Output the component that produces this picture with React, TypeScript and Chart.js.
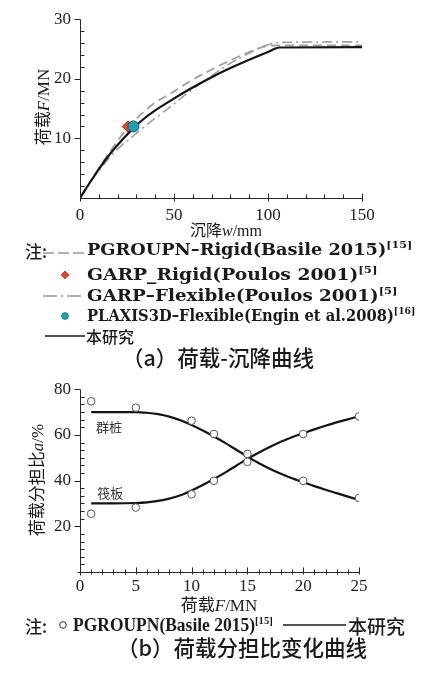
import React, { useEffect, useLayoutEffect, useRef } from "react";
import { Chart, registerables } from "chart.js";
Chart.register(...registerables);

// ---------- Chart (a): load–settlement ----------
const settleAxisTicks = [0, 50, 100, 150];
const loadAxisTicks = [10, 20, 30];

const solidSettle = [0, 8, 15, 22, 28, 34, 40, 48, 58, 69, 80, 90, 100, 106, 150];
const solidLoad = [0, 3.9, 7.0, 9.6, 11.6, 13.3, 14.7, 16.3, 18.2, 20.1, 21.8, 23.2, 24.5, 25.25, 25.3];

const pgroupnRigidSettle = [0, 10, 18, 25, 33, 40, 48, 58, 69, 80, 90, 97, 105, 150];
const pgroupnRigidLoad = [0, 5.0, 8.7, 11.6, 14.2, 16.0, 17.5, 19.5, 21.4, 23.1, 24.5, 25.3, 25.6, 25.6];

const garpFlexSettle = [0, 10, 20, 29, 38, 48, 58, 70, 80, 90, 98, 106, 150];
const garpFlexLoad = [0, 4.6, 8.2, 10.6, 12.9, 15.3, 17.8, 20.5, 22.6, 24.3, 25.5, 26.1, 26.2];

const garpRigidPoint = [25.4, 12.0];
const plaxisPoint = [28.4, 12.0];

// ---------- Chart (b): load sharing ratio ----------
const shareLoadTicks = [0, 5, 10, 15, 20, 25];
const shareRatioTicks = [20, 40, 60, 80];

const studyLoad = [1, 3, 5, 6, 7, 8, 9, 10, 11, 12, 13, 14, 15, 16, 17, 18, 19, 20, 21, 22, 23, 24, 25];
const studyPile = [70, 70, 70, 69.7, 69.1, 68, 66.4, 64.3, 61.9, 59.3, 56.5, 53.5, 50.5, 47.7, 45.2, 43, 41, 39.3, 37.6, 36, 34.5, 33, 31.5];
const studyRaft = [30, 30, 30.2, 30.5, 31.1, 32.1, 33.6, 35.7, 38.1, 40.7, 43.5, 46.5, 49.5, 52.2, 54.7, 57, 59, 60.7, 62.4, 64, 65.5, 66.8, 68.2];

const pgroupnLoad = [1, 5, 10, 12, 15, 20, 25];
const pgroupnPile = [74.7, 71.9, 66.2, 60.4, 48.2, 39.9, 32.4];
const pgroupnRaft = [25.5, 28.2, 34.0, 39.9, 51.7, 60.4, 68.1];

const seriesLabels = [
  { text: "群桩", x: 2.6, y: 63.4 },
  { text: "筏板", x: 2.7, y: 34.7 },
];

const zip = (xs: number[], ys: number[]) => xs.map((x, i) => ({ x, y: ys[i] }));

const SERIF = "'Liberation Serif', 'Times New Roman', serif";
const WIDE_SERIF = "'DejaVu Serif', serif";
const CJK = "'Noto Sans CJK SC', sans-serif";

const tickMarks = {
  id: "tickMarks",
  afterDraw(chart: any) {
    const o = chart.options.plugins.tickMarks;
    if (!o) return;
    const { ctx, chartArea: a, scales } = chart;
    const xs = scales.x;
    const ys = scales.y;
    const bx = Math.round(a.left) + 0.5;
    const by = Math.round(a.bottom) + 0.5;
    ctx.save();
    ctx.strokeStyle = "#2a2a2a";
    ctx.lineWidth = 1;
    ctx.beginPath();
    ctx.moveTo(bx, Math.round(a.top) + 0.5);
    ctx.lineTo(bx, by + o.yAxisBelow);
    ctx.moveTo(bx - o.xAxisLeft, by);
    ctx.lineTo(Math.round(a.right) + 0.5, by);
    const isMul = (v: number, s: number) => Math.abs(v / s - Math.round(v / s)) < 1e-6;
    for (let v = xs.min + o.xMinor; v <= xs.max + 1e-9; v += o.xMinor) {
      const px = Math.round(xs.getPixelForValue(v)) + 0.5;
      const major = isMul(v, o.xMajor);
      const up = major ? o.xMajorIn : o.xMinorIn;
      const down = major ? o.xMajorOut : o.xMinorOut;
      ctx.moveTo(px, by - up);
      ctx.lineTo(px, by + down);
    }
    for (let v = ys.min + o.yMinor; v <= ys.max + 1e-9; v += o.yMinor) {
      const py = Math.round(ys.getPixelForValue(v)) + 0.5;
      const major = isMul(v, o.yMajor);
      const inn = major ? o.yMajorIn : o.yMinorIn;
      const out = major ? o.yMajorOut : o.yMinorOut;
      ctx.moveTo(bx - out, py);
      ctx.lineTo(bx + inn, py);
    }
    ctx.stroke();
    ctx.restore();
  },
};

const seriesText = {
  id: "seriesText",
  afterDatasetsDraw(chart: any) {
    const o = chart.options.plugins.seriesText;
    if (!o || !o.items) return;
    const { ctx, scales } = chart;
    ctx.save();
    ctx.fillStyle = "#333";
    ctx.font = `13px ${CJK}`;
    ctx.textAlign = "center";
    ctx.textBaseline = "middle";
    o.items.forEach((it: any) => {
      ctx.fillText(it.text, scales.x.getPixelForValue(it.x), scales.y.getPixelForValue(it.y));
    });
    ctx.restore();
  },
};

function useChart(ref: React.RefObject<HTMLCanvasElement>, build: () => any) {
  useEffect(() => {
    if (!ref.current) return;
    const chart = new Chart(ref.current, build());
    return () => chart.destroy();
  }, []);
}

const tickFont = { family: SERIF, size: 17 };

function ChartA() {
  const ref = useRef<HTMLCanvasElement>(null);
  useChart(ref, () => ({
    type: "scatter",
    data: {
      datasets: [
        {
          data: [{ x: plaxisPoint[0], y: plaxisPoint[1] }],
          pointStyle: "circle",
          pointRadius: 5.5,
          backgroundColor: "#1d9fb6",
          borderColor: "#1f5663",
          borderWidth: 1,
        },
        {
          data: [{ x: garpRigidPoint[0], y: garpRigidPoint[1] }],
          pointStyle: "rectRot",
          pointRadius: 5.5,
          backgroundColor: "#e5452c",
          borderColor: "#8a2b1c",
          borderWidth: 1,
        },
        {
          data: zip(solidSettle, solidLoad),
          showLine: true,
          borderColor: "#141414",
          borderWidth: 2.2,
          pointRadius: 0,
          cubicInterpolationMode: "monotone",
        },
        {
          data: zip(pgroupnRigidSettle, pgroupnRigidLoad),
          showLine: true,
          borderColor: "#a0a0a0",
          borderWidth: 1.8,
          borderDash: [9, 5],
          pointRadius: 0,
          cubicInterpolationMode: "monotone",
        },
        {
          data: zip(garpFlexSettle, garpFlexLoad),
          showLine: true,
          borderColor: "#a0a0a0",
          borderWidth: 1.6,
          borderDash: [10, 4, 2, 4],
          pointRadius: 0,
          cubicInterpolationMode: "monotone",
        },
      ],
    },
    options: {
      animation: false,
      responsive: true,
      maintainAspectRatio: false,
      events: [],
      layout: { padding: { left: 0, right: 70, top: 15, bottom: 0 } },
      plugins: {
        legend: { display: false },
        tooltip: { enabled: false },
        tickMarks: {
          xMinor: 10, xMajor: 50, xMinorIn: 4, xMinorOut: 0, xMajorIn: 5, xMajorOut: 3,
          yMinor: 2, yMajor: 10, yMinorIn: 4, yMinorOut: 0, yMajorIn: 0, yMajorOut: 6,
          xAxisLeft: 0, yAxisBelow: 3,
        },
      },
      scales: {
        x: {
          type: "linear",
          min: 0,
          max: 150,
          afterBuildTicks: (s: any) => { s.ticks = settleAxisTicks.map((v) => ({ value: v })); },
          afterFit: (s: any) => { s.height = 24; },
          grid: { display: false, drawTicks: false },
          border: { display: false },
          ticks: { font: tickFont, color: "#222", padding: 7, maxRotation: 0 },
        },
        y: {
          type: "linear",
          min: 0,
          max: 30,
          afterBuildTicks: (s: any) => { s.ticks = loadAxisTicks.map((v) => ({ value: v })); },
          afterFit: (s: any) => { s.width = 80; },
          grid: { display: false, drawTicks: false },
          border: { display: false },
          ticks: { font: tickFont, color: "#222", padding: 9 },
        },
      },
    },
    plugins: [tickMarks],
  }));
  return (
    <div style={{ position: "absolute", left: 0, top: 0, width: 432, height: 222 }}>
      <canvas ref={ref} />
    </div>
  );
}

function ChartB() {
  const ref = useRef<HTMLCanvasElement>(null);
  const ring = (xs: number[], ys: number[]) => ({
    data: zip(xs, ys),
    pointStyle: "circle",
    pointRadius: 3.8,
    backgroundColor: "#ffffff",
    borderColor: "#555",
    borderWidth: 1,
  });
  const line = (xs: number[], ys: number[]) => ({
    data: zip(xs, ys),
    showLine: true,
    borderColor: "#141414",
    borderWidth: 2.2,
    pointRadius: 0,
    cubicInterpolationMode: "monotone",
  });
  useChart(ref, () => ({
    type: "scatter",
    data: {
      datasets: [
        ring(pgroupnLoad, pgroupnPile),
        ring(pgroupnLoad, pgroupnRaft),
        line(studyLoad, studyPile),
        line(studyLoad, studyRaft),
      ],
    },
    options: {
      animation: false,
      responsive: true,
      maintainAspectRatio: false,
      events: [],
      layout: { padding: { left: 0, right: 73, top: 15, bottom: 0 } },
      plugins: {
        legend: { display: false },
        tooltip: { enabled: false },
        seriesText: { items: seriesLabels },
        tickMarks: {
          xMinor: 1, xMajor: 5, xMinorIn: 3, xMinorOut: 2, xMajorIn: 5, xMajorOut: 2,
          yMinor: 20 / 6, yMajor: 20, yMinorIn: 4, yMinorOut: 0, yMajorIn: 0, yMajorOut: 6,
          xAxisLeft: 3, yAxisBelow: 3,
        },
      },
      scales: {
        x: {
          type: "linear",
          min: 0,
          max: 25,
          afterBuildTicks: (s: any) => { s.ticks = shareLoadTicks.map((v) => ({ value: v })); },
          afterFit: (s: any) => { s.height = 20; },
          grid: { display: false, drawTicks: false },
          border: { display: false },
          ticks: { font: tickFont, color: "#222", padding: 4, maxRotation: 0 },
        },
        y: {
          type: "linear",
          min: 0,
          max: 80,
          afterBuildTicks: (s: any) => { s.ticks = shareRatioTicks.map((v) => ({ value: v })); },
          afterFit: (s: any) => { s.width = 80; },
          grid: { display: false, drawTicks: false },
          border: { display: false },
          ticks: { font: tickFont, color: "#222", padding: 9 },
        },
      },
    },
    plugins: [tickMarks, seriesText],
  }));
  return (
    <div style={{ position: "absolute", left: 0, top: 370, width: 432, height: 222 }}>
      <canvas ref={ref} />
    </div>
  );
}

const centerAt = (cx: number, cy: number, extra: any = {}) => ({
  position: "absolute" as const,
  left: cx,
  top: cy,
  transform: "translate(-50%, -50%)",
  whiteSpace: "nowrap" as const,
  lineHeight: 1,
  color: "#1a1a1a",
  ...extra,
});
const leftAt = (x: number, cy: number, extra: any = {}) => ({
  position: "absolute" as const,
  left: x,
  top: cy,
  transform: "translateY(-50%)",
  whiteSpace: "nowrap" as const,
  lineHeight: 1,
  color: "#1a1a1a",
  ...extra,
});

// left-anchored text line stretched/compressed horizontally to a target width
function FitLine({ x, cy, width, style, children }: any) {
  const r = useRef<HTMLDivElement>(null);
  useLayoutEffect(() => {
    const el = r.current;
    if (!el) return;
    const w = el.offsetWidth || width;
    el.style.transform = `translateY(-50%) scaleX(${width / w})`;
  }, []);
  return (
    <div ref={r} style={leftAt(x, cy, { ...style, transformOrigin: "0 50%" })}>
      {children}
    </div>
  );
}

const Sup = ({ children, size = 10 }: any) => (
  <span style={{ fontSize: size, position: "relative", top: -7 }}>{children}</span>
);
const Cjk = ({ children, w = 400 }: any) => (
  <span style={{ fontFamily: CJK, fontWeight: w }}>{children}</span>
);
const It = ({ children }: any) => (
  <span style={{ fontFamily: SERIF, fontStyle: "italic" }}>{children}</span>
);

export default function App() {
  const legA = { fontFamily: WIDE_SERIF, fontSize: 16, fontWeight: 600 };
  const legB = { fontFamily: SERIF, fontSize: 18, fontWeight: 600 };
  return (
    <div style={{ position: "absolute", left: 0, top: 0, width: 432, height: 673, background: "#fff" }}>
      <ChartA />
      <ChartB />

      {/* axis titles chart a */}
      <div style={centerAt(226, 230, { fontFamily: SERIF, fontSize: 16 })}>
        <Cjk>沉降</Cjk><It>w</It>/mm
      </div>
      <div style={centerAt(42, 107, { fontFamily: SERIF, fontSize: 17, transform: "translate(-50%, -50%) rotate(-90deg)" })}>
        <Cjk>荷载</Cjk><It>F</It>/MN
      </div>

      {/* legend a */}
      <div style={leftAt(25, 250, { fontFamily: CJK, fontSize: 17, fontWeight: 500 })}>注:</div>
      <FitLine x={87} cy={250} width={325} style={legA}>PGROUPN–Rigid(Basile 2015)<Sup>[15]</Sup></FitLine>
      <FitLine x={87} cy={275} width={291} style={legA}>GARP_Rigid(Poulos 2001)<Sup>[5]</Sup></FitLine>
      <FitLine x={87} cy={296} width={310} style={legA}>GARP–Flexible(Poulos 2001)<Sup>[5]</Sup></FitLine>
      <FitLine x={87} cy={316} width={328} style={legA}>PLAXIS3D–Flexible(Engin et al.2008)<Sup>[16]</Sup></FitLine>
      <div style={leftAt(86, 336, { fontFamily: CJK, fontSize: 16, fontWeight: 500 })}>本研究</div>

      <div style={centerAt(218, 357, { fontFamily: CJK, fontSize: 21.5, fontWeight: 500 })}>（a）荷载-沉降曲线</div>

      {/* axis titles chart b */}
      <div style={centerAt(219, 604, { fontFamily: SERIF, fontSize: 17 })}>
        <Cjk>荷载</Cjk><It>F</It>/MN
      </div>
      <div style={centerAt(36, 480, { fontFamily: SERIF, fontSize: 17, transform: "translate(-50%, -50%) rotate(-90deg)" })}>
        <Cjk>荷载分担比</Cjk><It>a</It>/%
      </div>

      {/* legend b */}
      <div style={leftAt(25, 625, { fontFamily: CJK, fontSize: 17, fontWeight: 500 })}>注:</div>
      <FitLine x={73} cy={625} width={200} style={legB}>PGROUPN(Basile 2015)<Sup size={11}>[15]</Sup></FitLine>
      <div style={leftAt(348, 625, { fontFamily: CJK, fontSize: 19, fontWeight: 500 })}>本研究</div>

      <div style={centerAt(242, 647, { fontFamily: CJK, fontSize: 21.5, fontWeight: 500 })}>（b）荷载分担比变化曲线</div>

      {/* legend samples */}
      <svg width={432} height={673} style={{ position: "absolute", left: 0, top: 0, pointerEvents: "none" }}>
        <line x1={43} y1={253} x2={85} y2={253} stroke="#9a9a9a" strokeWidth={1.6} strokeDasharray="11 4" />
        <polygon points="65,271 69,275 65,279 61,275" fill="#e5452c" stroke="#8a2b1c" strokeWidth={0.6} />
        <line x1={43} y1={296} x2={85} y2={296} stroke="#9a9a9a" strokeWidth={1.6} strokeDasharray="14 4 2 4" />
        <circle cx={65} cy={316} r={3.5} fill="#1d9fb6" stroke="#1f5663" strokeWidth={0.6} />
        <line x1={45} y1={336} x2={85} y2={336} stroke="#1a1a1a" strokeWidth={1.6} />
        <circle cx={63} cy={625} r={3.3} fill="#fff" stroke="#333" strokeWidth={1} />
        <line x1={283} y1={625} x2={346} y2={625} stroke="#1a1a1a" strokeWidth={1.5} />
      </svg>
    </div>
  );
}
